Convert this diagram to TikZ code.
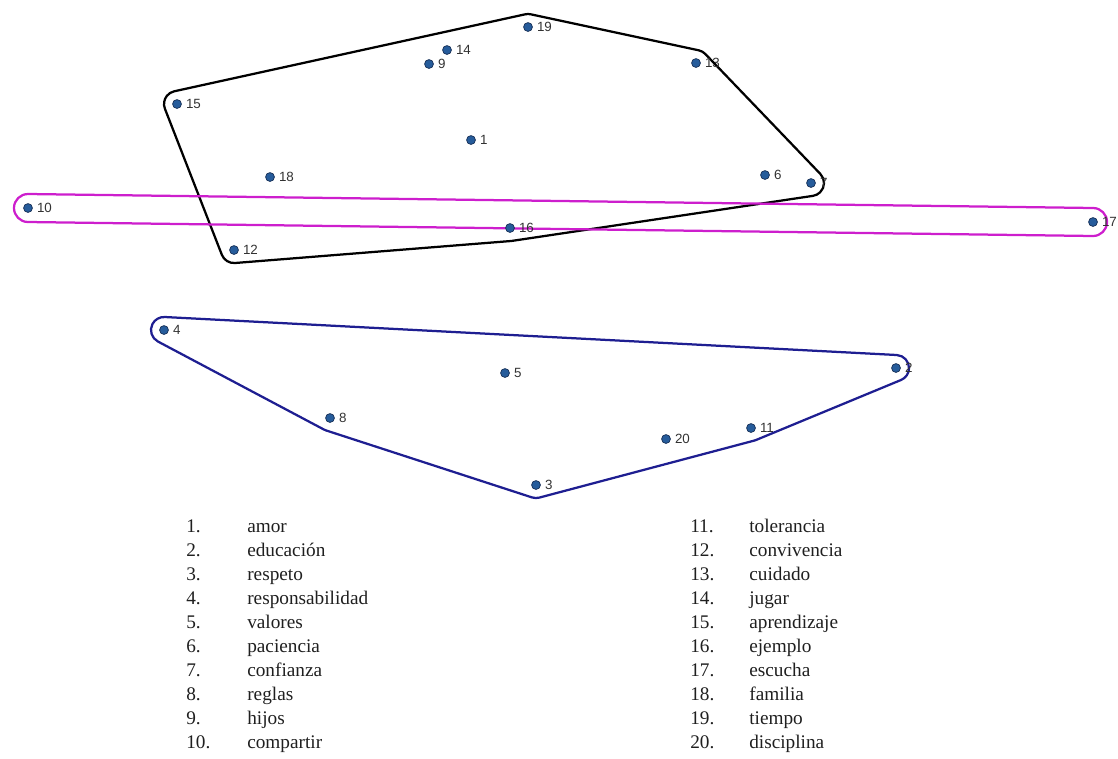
\documentclass[tikz,border=0pt]{standalone}
\usepackage{fontspec}
\setmainfont{Liberation Serif}
\setsansfont{Liberation Sans}
\usepackage{tikz}
\usetikzlibrary{positioning}
\definecolor{dotfill}{RGB}{38, 92, 155}
\definecolor{dotline}{RGB}{20, 45, 85}
\definecolor{lblgray}{RGB}{50, 50, 50}
\definecolor{hullblue}{RGB}{30, 30, 145}
\definecolor{hullmag}{RGB}{205, 30, 205}

\tikzset{
  pt/.style={circle, fill=dotfill, draw=dotline, line width=0.5pt, inner sep=0pt, minimum size=6.3pt},
  lbl/.style={font=\sffamily\fontsize{9.5}{11}\selectfont, text=lblgray, inner sep=1pt, xshift=1.8pt},
  hull/.style={line width=1.6pt, line join=round},
  legend/.style={anchor=north west, inner sep=0pt, text=black!88, font=\fontsize{13.7}{17.07}\selectfont}
}

\begin{document}
\begin{tikzpicture}[x=0.025cm, y=-0.025cm]
    \useasboundingbox (0,0) rectangle (1118,758);

    % black group
    \draw [hull, black] (174.2,91.3) -- (525.2,14.3) arc[start angle=-102.4, end angle=-77.9, radius=13]
      -- (698.7,50.3) arc[start angle=-77.9, end angle=-43.8, radius=13]
      -- (820.4,174.0) arc[start angle=-43.8, end angle=81.5, radius=13]
      -- (511.9,240.9) arc[start angle=81.5, end angle=85.4, radius=13]
      -- (235.0,263.0) arc[start angle=85.4, end angle=158.7, radius=13]
      -- (164.9,108.7) arc[start angle=158.7, end angle=257.6, radius=13] -- cycle;

    % magenta group
    \draw [hull, hullmag] (28.2,194.0) -- (1093.2,208.0) arc[start angle=-89.25, end angle=90.75, radius=14]
      -- (27.8,222.0) arc[start angle=90.75, end angle=270.75, radius=14] -- cycle;

    % blue group
    \draw [hull, hullblue] (164.7,317.0) -- (896.7,355.0) arc[start angle=-87, end angle=67.5, radius=13]
      -- (756.0,440.0) arc[start angle=67.5, end angle=75.2, radius=13]
      -- (539.3,497.6) arc[start angle=75.2, end angle=108, radius=13]
      -- (326.0,430.4) arc[start angle=108, end angle=117.9, radius=13]
      -- (157.9,341.5) arc[start angle=117.9, end angle=273, radius=13] -- cycle;

    \node [pt, label={[lbl]right:1}] (p1) at (471,140) {};
    \node [pt, label={[lbl]right:2}] (p2) at (896,368) {};
    \node [pt, label={[lbl]right:3}] (p3) at (536,485) {};
    \node [pt, label={[lbl]right:4}] (p4) at (164,330) {};
    \node [pt, label={[lbl]right:5}] (p5) at (505,373) {};
    \node [pt, label={[lbl]right:6}] (p6) at (765,175) {};
    \node [pt, label={[lbl]right:7}] (p7) at (811,183) {};
    \node [pt, label={[lbl]right:8}] (p8) at (330,418) {};
    \node [pt, label={[lbl]right:9}] (p9) at (429,64) {};
    \node [pt, label={[lbl]right:10}] (p10) at (28,208) {};
    \node [pt, label={[lbl]right:11}] (p11) at (751,428) {};
    \node [pt, label={[lbl]right:12}] (p12) at (234,250) {};
    \node [pt, label={[lbl]right:13}] (p13) at (696,63) {};
    \node [pt, label={[lbl]right:14}] (p14) at (447,50) {};
    \node [pt, label={[lbl]right:15}] (p15) at (177,104) {};
    \node [pt, label={[lbl]right:16}] (p16) at (510,228) {};
    \node [pt, label={[lbl]right:17}] (p17) at (1093,222) {};
    \node [pt, label={[lbl]right:18}] (p18) at (270,177) {};
    \node [pt, label={[lbl]right:19}] (p19) at (528,27) {};
    \node [pt, label={[lbl]right:20}] (p20) at (666,439) {};

    \node [legend] (legleft) at (186,515) {\begin{tabular}{@{}p{43.4pt}@{}l@{}}
      1. & amor\\ 2. & educación\\ 3. & respeto\\ 4. & responsabilidad\\ 5. & valores\\
      6. & paciencia\\ 7. & confianza\\ 8. & reglas\\ 9. & hijos\\ 10. & compartir
    \end{tabular}};
    \node [legend] (legright) at (690,515) {\begin{tabular}{@{}p{42pt}@{}l@{}}
      11. & tolerancia\\ 12. & convivencia\\ 13. & cuidado\\ 14. & jugar\\ 15. & aprendizaje\\
      16. & ejemplo\\ 17. & escucha\\ 18. & familia\\ 19. & tiempo\\ 20. & disciplina
    \end{tabular}};
  \end{tikzpicture}
\end{document}
